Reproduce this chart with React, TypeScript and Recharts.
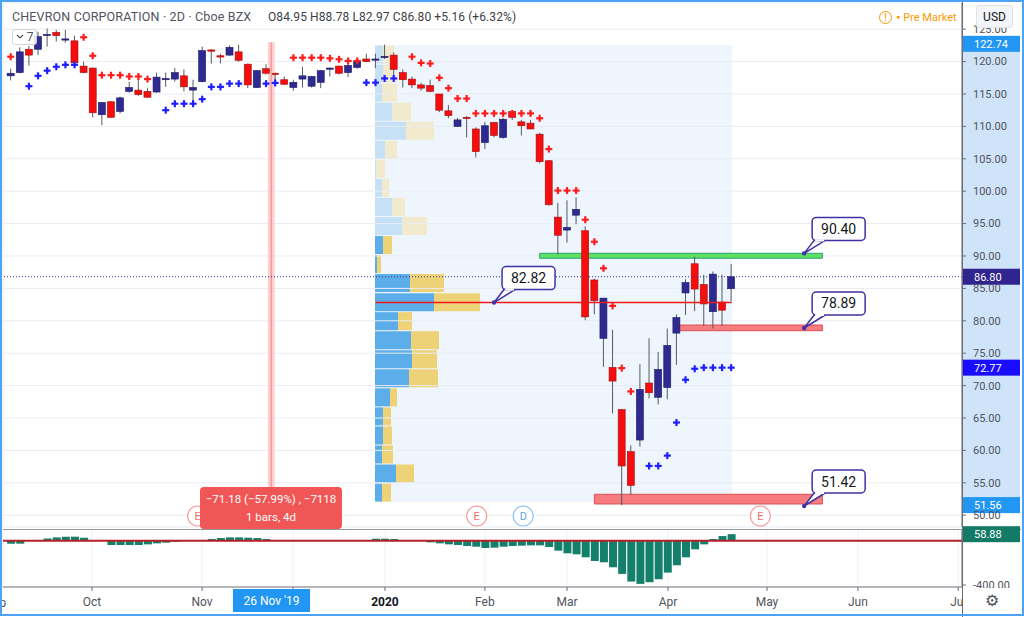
import React from 'react';
import {
  ComposedChart,
  BarChart,
  Bar,
  Scatter,
  XAxis,
  YAxis,
  CartesianGrid,
  ReferenceLine,
  ReferenceArea,
  ReferenceDot,
  Cell,
} from 'recharts';

// 2D candles, Sep 2019 -> Apr 2020 (index = bar number)
const opens = [
  117.8, 118.3, 121.9, 121.9, 124.1, 124.5, 123.4, 123.2, 119.3, 119.0,
  111.8, 113.8, 112.3, 115.4, 115.6, 115.4, 115.3, 117.2, 117.3, 117.8,
  115.6, 116.9, 121.8, 120.9, 121.0, 121.5, 119.6, 116.0, 118.9, 118.2,
  117.2, 116.0, 117.3, 116.2, 116.8, 118.9, 119.3, 118.3, 119.1, 120.4,
  120.3, 120.7, 121.0, 118.3, 117.3, 116.4, 116.3, 115.0, 112.4, 110.0,
  111.4, 109.6, 107.5, 110.6, 108.3, 112.3, 110.7, 110.5, 108.8, 104.7,
  96.0, 94.0, 96.3, 93.9, 86.3, 77.3, 72.8, 66.3, 59.8, 61.6,
  70.4, 68.2, 69.7, 78.1, 84.3, 88.8, 85.6, 81.4, 82.9, 84.95,
];
const highs = [
  118.9, 122.2, 122.4, 124.6, 125.1, 124.9, 124.9, 124.0, 120.0, 119.1,
  113.7, 113.9, 114.6, 116.9, 117.7, 115.9, 118.3, 118.3, 119.0, 118.8,
  117.2, 122.3, 121.9, 121.2, 122.5, 122.6, 119.7, 118.7, 119.6, 118.3,
  117.7, 117.2, 119.2, 117.8, 118.7, 119.1, 119.4, 119.7, 120.2, 121.2,
  121.2, 122.6, 121.4, 118.8, 117.7, 116.75, 117.2, 115.0, 113.3, 111.3,
  111.6, 109.85, 110.7, 110.7, 111.3, 112.5, 111.0, 111.0, 109.0, 104.8,
  98.2, 98.6, 99.05, 94.6, 86.5, 83.5, 78.6, 66.4, 60.8, 73.3,
  77.3, 75.2, 78.8, 81.0, 86.4, 89.9, 87.1, 87.6, 87.1, 88.78,
];
const lows = [
  117.1, 118.2, 119.4, 121.0, 122.3, 123.1, 122.9, 119.5, 118.2, 111.4,
  110.2, 111.3, 112.0, 115.2, 114.7, 114.4, 115.2, 116.1, 116.9, 115.4,
  113.3, 116.8, 119.7, 119.7, 120.9, 120.0, 115.9, 115.9, 118.0, 116.7,
  116.4, 115.5, 116.0, 116.0, 115.9, 117.7, 118.0, 117.6, 118.9, 119.9,
  119.0, 120.4, 117.7, 116.0, 115.9, 115.5, 115.3, 112.2, 111.25, 109.9,
  108.3, 105.2, 106.5, 108.3, 108.1, 111.0, 108.6, 109.55, 104.3, 97.8,
  90.2, 92.05, 94.9, 80.1, 81.0, 72.9, 65.7, 51.56, 53.1, 60.6,
  68.0, 67.1, 67.9, 73.2, 80.9, 81.5, 79.2, 78.8, 79.2, 82.97,
];
const closes = [
  118.2, 121.5, 121.0, 123.85, 124.2, 124.0, 123.5, 119.8, 118.3, 112.1,
  113.7, 111.4, 114.4, 116.0, 114.9, 114.5, 117.6, 117.4, 118.3, 116.1,
  116.0, 121.7, 121.6, 120.7, 122.2, 120.2, 116.4, 118.6, 118.2, 118.0,
  116.5, 116.8, 117.8, 117.7, 118.6, 119.0, 118.2, 119.4, 120.1, 120.0,
  120.4, 120.8, 118.8, 117.2, 116.4, 115.9, 115.4, 112.5, 111.65, 111.0,
  111.2, 106.1, 110.1, 108.6, 111.1, 111.4, 110.1, 109.6, 104.55, 97.9,
  93.2, 94.4, 97.2, 80.6, 83.1, 83.5, 70.7, 57.6, 54.6, 69.4,
  68.9, 72.5, 76.2, 80.5, 85.9, 84.9, 82.6, 87.2, 81.64, 86.8,
];

// Parabolic SAR (red above price, blue below price)
const sarAbove = [
  120.75, null, null, null, null, null, null, null, 123.75, 120.9,
  117.9, 117.9, 117.9, 117.7, 117.7, 117.3, null, null, null, null,
  null, null, null, null, null, null, null, null, null, null,
  null, 120.6, 120.6, 120.6, 120.6, 120.5, 120.35, 120.1, 120.1, null,
  null, null, null, null, 120.75, 119.8, 119.7, 117.5, 115.9, 114.3,
  114.3, 112.0, 112.0, 112.0, 112.0, 112.0, 112.0, 112.0, 111.25, 106.5,
  100.1, 100.1, 100.1, 95.6, 92.2, 88.1, 82.3, 72.7, 69.1, null,
  null, null, null, null, null, null, null, null, null, null,
];
const sarBelow = [
  null, null, 116.2, 117.8, 118.6, 119.2, 119.5, 119.5, null, null,
  null, null, null, null, null, null, null, 112.5, 113.5, 113.5,
  113.5, 114.2, 116.1, 116.1, 116.6, 116.6, null, null, 116.6, 116.7,
  null, null, null, null, null, null, null, null, null, 116.75,
  116.75, 117.4, 117.4, null, null, null, null, null, null, null,
  null, null, null, null, null, null, null, null, null, null,
  null, null, null, null, null, null, null, null, null, null,
  57.6, 57.6, 59.2, 64.3, 70.9, 72.6, 72.77, 72.77, 72.77, 72.77,
];

// lower pane oscillator histogram
const oscValues = [
  -27, -27, 0, 0, 20, 30, 36, 36, 27, 0,
  0, -39, -39, -39, -39, -33, -24, -18, -9, 0,
  0, 0, 15, 24, 30, 30, 27, 24, 15, 0,
  0, 0, 0, 0, 0, 0, 0, 0, 0, 0,
  18, 18, 15, 0, 0, 0, -15, -24, -33, -39,
  -48, -54, -66, -63, -54, -48, -45, -42, -42, -57,
  -90, -114, -123, -150, -183, -195, -240, -300, -369, -390,
  -375, -348, -288, -222, -150, -78, -33, 15, 42, 58.88,
];

// volume profile (visible range), rows top -> bottom
const vpBuyVolume = [8, 8, 7, 17, 31, 10, 1, 7, 17, 27, 8, 2, 35, 59, 23, 36, 37, 34, 15, 8, 8, 7, 21, 7];
const vpSellVolume = [11, 10, 15, 19, 28, 12, 9, 7, 13, 25, 9, 4, 34, 46, 14, 28, 25, 29, 7, 8, 9, 11, 18, 9];
const vpValueAreaStart = 10;

// time axis (bar-index positions of month starts); Dec label sits under the crosshair date box
const monthTicks = [8.91, 20.98, 30.96, 41.04, 52.0, 61.0, 72.07, 82.93, 92.9, 103.9];
const monthLabels = ['Oct', 'Nov', '', '2020', 'Feb', 'Mar', 'Apr', 'May', 'Jun', 'Jul'];
const priceTicks = [50, 55, 60, 65, 70, 75, 80, 85, 90, 95, 100, 105, 110, 115, 120, 125];

// drawings
const callouts = [
  { i: 53, price: 82.82 },
  { i: 87, price: 90.4 },
  { i: 87, price: 78.89 },
  { i: 87, price: 51.42 },
];
const boxes = [
  { x1: 58, x2: 89, y1: 89.65, y2: 90.42, fill: '#5fe15f', stroke: '#2aa37a' },
  { x1: 73.3, x2: 89, y1: 78.47, y2: 79.35, fill: '#f77c80', stroke: '#dd4f55' },
  { x1: 64, x2: 89, y1: 51.73, y2: 53.23, fill: '#f77c80', stroke: '#dd4f55' },
];
const events = [
  { i: 20.5, letter: 'E' },
  { i: 51.1, letter: 'E' },
  { i: 56.2, letter: 'D' },
  { i: 82.2, letter: 'E' },
];
const pocPrice = 82.82;
const lastPrice = 86.8;
const sarLast = 72.77;
const rangeHigh = 122.74;
const rangeLow = 51.56;
const oscLast = 58.88;

const X_DOMAIN: [number, number] = [-0.844, 104.31];
const PRICE_DOMAIN: [number, number] = [48.18, 129.04];
const EVENT_ROW_PRICE = 49.88;

const candles = opens.map((o, i) => ({ i, o, h: highs[i], l: lows[i], c: closes[i] }));
const sarAbovePts = sarAbove.map((v, i) => ({ i, v })).filter((d) => d.v != null);
const sarBelowPts = sarBelow.map((v, i) => ({ i, v })).filter((d) => d.v != null);
const oscRows = oscValues.map((v, i) => ({ i, v }));
const vpRows = vpBuyVolume.map((b, k) => ({
  row: k,
  buy: b,
  sell: vpSellVolume[k],
  inVA: k >= vpValueAreaStart,
}));

const UP = '#2e2a8f';
const DOWN = '#f60d0d';
const AXIS_TEXT = '#50535e';

const Candle = (props: any) => {
  const { x, y, width, height, payload } = props;
  const { o, h, l, c } = payload;
  const top = Math.min(y, y + height);
  const full = Math.abs(height);
  const per = full / (h - l || 1);
  const cx = x + width / 2;
  const bTop = top + (h - Math.max(o, c)) * per;
  const bBot = top + (h - Math.min(o, c)) * per;
  const up = c >= o;
  const bh = Math.max(bBot - bTop, 1.2);
  return (
    <g>
      <line x1={cx} x2={cx} y1={top} y2={top + full} stroke="#555a63" strokeWidth={1} />
      <rect
        x={x}
        y={bTop}
        width={width}
        height={bh}
        fill={up ? UP : DOWN}
        stroke={up ? '#1c1866' : '#9e1010'}
        strokeWidth={0.6}
      />
    </g>
  );
};

const cross = (color: string) => (props: any) => {
  const { cx, cy } = props;
  return (
    <g stroke={color} strokeWidth={2.2}>
      <line x1={cx - 3.5} x2={cx + 3.5} y1={cy} y2={cy} />
      <line x1={cx} x2={cx} y1={cy - 3.5} y2={cy + 3.5} />
    </g>
  );
};

const axisTag = (text: string, bg: string) => (props: any) => {
  const vb = props.viewBox || {};
  const x = (vb.x || 0) + (vb.width || 0);
  const y = vb.y || 0;
  return (
    <g>
      <rect x={x + 1} y={y - 8} width={57} height={16} fill={bg} />
      <text x={x + 12} y={y + 4} fill="#fff" fontSize={11}>
        {text}
      </text>
    </g>
  );
};

const callout = (text: string) => (props: any) => {
  const { cx, cy } = props;
  const left = cx + 8;
  const top = cy - 36;
  const w = 53;
  const h = 23;
  const ink = '#3f33a3';
  return (
    <g>
      <path
        d={`M${cx},${cy} L${left + 2},${top + h} L${left + 13},${top + h} Z`}
        fill="#fff"
        stroke={ink}
        strokeWidth={1.5}
        strokeLinejoin="round"
      />
      <rect x={left} y={top} width={w} height={h} rx={4} fill="#fff" stroke={ink} strokeWidth={1.5} />
      <line x1={left + 3} x2={left + 12} y1={top + h} y2={top + h} stroke="#fff" strokeWidth={2} />
      <circle cx={cx} cy={cy} r={2.2} fill={ink} />
      <text x={left + w / 2} y={top + 16.5} textAnchor="middle" fontSize={14} fill="#131722">
        {text}
      </text>
    </g>
  );
};

const eventMark = (letter: string) => (props: any) => {
  const { cx, cy } = props;
  const red = letter === 'E';
  return (
    <g>
      <circle cx={cx} cy={cy} r={10} fill="#fff" stroke={red ? '#f59a9a' : '#8cc3f2'} strokeWidth={1.2} />
      <text x={cx} y={cy + 4} textAnchor="middle" fontSize={11} fill={red ? '#f26b6b' : '#5aa6ea'}>
        {letter}
      </text>
    </g>
  );
};

const TimeTick = (props: any) => {
  const { x, y, payload } = props;
  const k = monthTicks.indexOf(payload.value);
  const label = monthLabels[k] ?? '';
  if (!label) return <g />;
  const isYear = label === '2020';
  return (
    <text
      x={x}
      y={y}
      dy="0.71em"
      textAnchor="middle"
      fontSize={12}
      fill={isYear ? '#131722' : AXIS_TEXT}
      fontWeight={isYear ? 700 : 400}
    >
      {label}
    </text>
  );
};

export default function App() {
  return (
    <div
      style={{
        position: 'absolute',
        left: 0,
        top: 0,
        width: 1024,
        height: 617,
        overflow: 'hidden',
        background: '#fff',
        fontFamily: 'Roboto, "Open Sans", sans-serif',
      }}
    >
      {/* volume profile, under the price chart */}
      <div style={{ position: 'absolute', left: 375, top: 45, width: 357, height: 457, background: '#eef5fc' }}>
        <BarChart
          width={356}
          height={457}
          data={vpRows}
          layout="vertical"
          margin={{ top: 0, right: 0, left: 0, bottom: 0 }}
          barCategoryGap={0.6}
        >
          <XAxis type="number" hide domain={[0, 356]} />
          <YAxis type="category" dataKey="row" hide />
          <Bar dataKey="buy" stackId="vp" isAnimationActive={false}>
            {vpRows.map((r) => (
              <Cell key={r.row} fill={r.inVA ? '#5caeeb' : '#c6e0f6'} />
            ))}
          </Bar>
          <Bar dataKey="sell" stackId="vp" isAnimationActive={false}>
            {vpRows.map((r) => (
              <Cell key={r.row} fill={r.inVA ? '#eed277' : '#f2eacd'} />
            ))}
          </Bar>
        </BarChart>
      </div>
      {/* visible range highlight on the price scale */}
      <div style={{ position: 'absolute', left: 963, top: 45, width: 57, height: 460, background: '#cfe4f8' }} />

      {/* price pane */}
      <div style={{ position: 'absolute', left: 0, top: 0 }}>
        <ComposedChart width={1024} height={528} data={candles} margin={{ top: 3, right: 2, left: 3, bottom: 1 }}>
          <CartesianGrid stroke="#e8ecf2" />
          <XAxis
            type="number"
            dataKey="i"
            domain={X_DOMAIN}
            ticks={monthTicks}
            interval={0}
            height={0}
            tick={false}
            tickLine={false}
            axisLine={false}
            allowDataOverflow
          />
          <YAxis
            orientation="right"
            width={60}
            domain={PRICE_DOMAIN}
            ticks={priceTicks}
            interval={0}
            allowDataOverflow
            tickFormatter={(v: number) => v.toFixed(2)}
            tick={{ fontSize: 11, fill: AXIS_TEXT }}
            tickSize={4}
            tickMargin={7}
            stroke="#6a6d78"
          />
          <ReferenceArea x1={28.2} x2={28.95} y1={PRICE_DOMAIN[0]} y2={123.0} fill="#fbc4c4" fillOpacity={0.8} stroke="none" />
          <ReferenceLine
            segment={[
              { x: 28.57, y: PRICE_DOMAIN[0] },
              { x: 28.57, y: 123.0 },
            ]}
            stroke="#f49c9c"
            strokeWidth={1.5}
          />
          {boxes.map((b, k) => (
            <ReferenceArea
              key={k}
              x1={b.x1}
              x2={b.x2}
              y1={b.y1}
              y2={b.y2}
              fill={b.fill}
              fillOpacity={1}
              stroke={b.stroke}
              strokeWidth={1}
            />
          ))}
          <ReferenceLine
            segment={[
              { x: 40, y: pocPrice },
              { x: 79.05, y: pocPrice },
            ]}
            stroke="#f01818"
            strokeWidth={1.5}
          />
          <ReferenceLine y={lastPrice} stroke="#3a2d9a" strokeDasharray="1 2" label={axisTag('86.80', '#30248e')} />
          <ReferenceLine y={rangeHigh} stroke="none" label={axisTag('122.74', '#2196f3')} />
          <ReferenceLine y={sarLast} stroke="none" label={axisTag('72.77', '#1a0dff')} />
          <ReferenceLine y={rangeLow} stroke="none" label={axisTag('51.56', '#2196f3')} />
          <Bar dataKey={(d: any) => [d.l, d.h]} barSize={7} shape={Candle} isAnimationActive={false} />
          <Scatter data={sarAbovePts} dataKey="v" shape={cross('#ff1c1c')} isAnimationActive={false} />
          <Scatter data={sarBelowPts} dataKey="v" shape={cross('#1e1eff')} isAnimationActive={false} />
          {events.map((e, k) => (
            <ReferenceDot key={k} x={e.i} y={EVENT_ROW_PRICE} r={10} shape={eventMark(e.letter)} />
          ))}
          {callouts.map((c, k) => (
            <ReferenceDot key={k} x={c.i} y={c.price} r={3} shape={callout(c.price.toFixed(2))} />
          ))}
        </ComposedChart>
      </div>

      {/* pane separator */}
      <div style={{ position: 'absolute', left: 3, top: 529, width: 1018, height: 1, background: '#9598a1' }} />

      {/* oscillator pane + time axis (svg starts 10px higher so the value tag is not clipped) */}
      <div style={{ position: 'absolute', left: 0, top: 520 }}>
        <BarChart width={1024} height={97} data={oscRows} margin={{ top: 10, right: 2, left: 3, bottom: 0 }}>
          <CartesianGrid stroke="#eef1f6" horizontal={false} />
          <XAxis
            type="number"
            dataKey="i"
            domain={X_DOMAIN}
            ticks={monthTicks}
            interval={0}
            height={30}
            tick={<TimeTick />}
            tickSize={4}
            tickMargin={6}
            stroke="#6a6d78"
            allowDataOverflow
          />
          <YAxis
            orientation="right"
            width={60}
            domain={[-418, 96.6]}
            ticks={[-400]}
            interval={0}
            allowDataOverflow
            tickFormatter={(v: number) => v.toFixed(2)}
            tick={{ fontSize: 11, fill: AXIS_TEXT }}
            tickSize={4}
            tickMargin={7}
            stroke="#6a6d78"
          />
          <Bar dataKey="v" barSize={8} fill="#14806b" isAnimationActive={false} />
          <ReferenceLine y={0} stroke="#b51f28" strokeWidth={2} />
          <ReferenceLine y={oscLast} stroke="none" label={axisTag('58.88', '#137a66')} />
        </BarChart>
      </div>

      {/* cut-off Sep label at the left edge of the time axis */}
      <div style={{ position: 'absolute', left: -14, top: 596, fontSize: 12, color: AXIS_TEXT, lineHeight: '14px' }}>Sep</div>

      {/* price axis separator */}
      <div style={{ position: 'absolute', left: 962, top: 0, width: 1, height: 617, background: '#6a6d78' }} />

      {/* header */}
      <div style={{ position: 'absolute', left: 12, top: 9, fontSize: 12.5, color: '#50535e', whiteSpace: 'nowrap', lineHeight: '16px', letterSpacing: 0.15 }}>
        CHEVRON CORPORATION · 2D · Cboe BZX
      </div>
      <div style={{ position: 'absolute', left: 268, top: 9, fontSize: 12, color: '#3d3f48', whiteSpace: 'nowrap', lineHeight: '16px', letterSpacing: 0.1 }}>
        O84.95 H88.78 L82.97 C86.80 +5.16 (+6.32%)
      </div>
      <div style={{ position: 'absolute', left: 879, top: 9, height: 16, display: 'flex', alignItems: 'center', color: '#ff9800', fontSize: 11, whiteSpace: 'nowrap' }}>
        <span
          style={{
            width: 13,
            height: 13,
            borderRadius: 7,
            border: '1.3px solid #ff9800',
            display: 'inline-flex',
            alignItems: 'center',
            justifyContent: 'center',
            fontSize: 10,
            boxSizing: 'border-box',
            marginRight: 4,
          }}
        >
          !
        </span>
        <span style={{ fontSize: 7, marginRight: 3 }}>●</span>
        Pre Market
      </div>
      <div
        style={{
          position: 'absolute',
          left: 976,
          top: 5,
          width: 37,
          height: 23,
          border: '1px solid #e0e3eb',
          background: '#f4f5f8',
          borderRadius: 3,
          boxSizing: 'border-box',
          fontSize: 12,
          color: '#131722',
          display: 'flex',
          alignItems: 'center',
          justifyContent: 'center',
        }}
      >
        USD
      </div>
      <div
        style={{
          position: 'absolute',
          left: 12,
          top: 29,
          width: 25,
          height: 16,
          border: '1px solid #d1d4dc',
          background: 'rgba(255,255,255,0.85)',
          borderRadius: 3,
          boxSizing: 'border-box',
          fontSize: 12,
          color: '#50535e',
          display: 'flex',
          alignItems: 'center',
          justifyContent: 'center',
          gap: 3,
        }}
      >
        <svg width={8} height={6}>
          <path d="M1,1 L4,4 L7,1" fill="none" stroke="#50535e" strokeWidth={1.2} />
        </svg>
        7
      </div>

      {/* date-range measure */}
      <div
        style={{
          position: 'absolute',
          left: 200,
          top: 487,
          width: 142,
          height: 42,
          background: '#f05656',
          borderRadius: 4,
          color: '#fff',
          fontSize: 11.5,
          textAlign: 'center',
          lineHeight: '18px',
          paddingTop: 3,
          boxSizing: 'border-box',
        }}
      >
        <div>−71.18 (−57.99%) , −7118</div>
        <div>1 bars, 4d</div>
      </div>
      <div
        style={{
          position: 'absolute',
          left: 233,
          top: 589,
          width: 77,
          height: 23,
          background: '#2196f3',
          color: '#fff',
          fontSize: 12,
          display: 'flex',
          alignItems: 'center',
          justifyContent: 'center',
        }}
      >
        26 Nov '19
      </div>

      {/* settings cell */}
      <div
        style={{
          position: 'absolute',
          left: 963,
          top: 588,
          width: 57,
          height: 25,
          background: '#fff',
          display: 'flex',
          alignItems: 'center',
          justifyContent: 'center',
          fontSize: 16,
          color: '#50535e',
        }}
      >
        ⚙
      </div>

      {/* outer frame */}
      <div
        style={{
          position: 'absolute',
          left: 0,
          top: 0,
          width: 1024,
          height: 616,
          border: '2px solid #4fa3f7',
          boxSizing: 'border-box',
          pointerEvents: 'none',
        }}
      />
    </div>
  );
}
